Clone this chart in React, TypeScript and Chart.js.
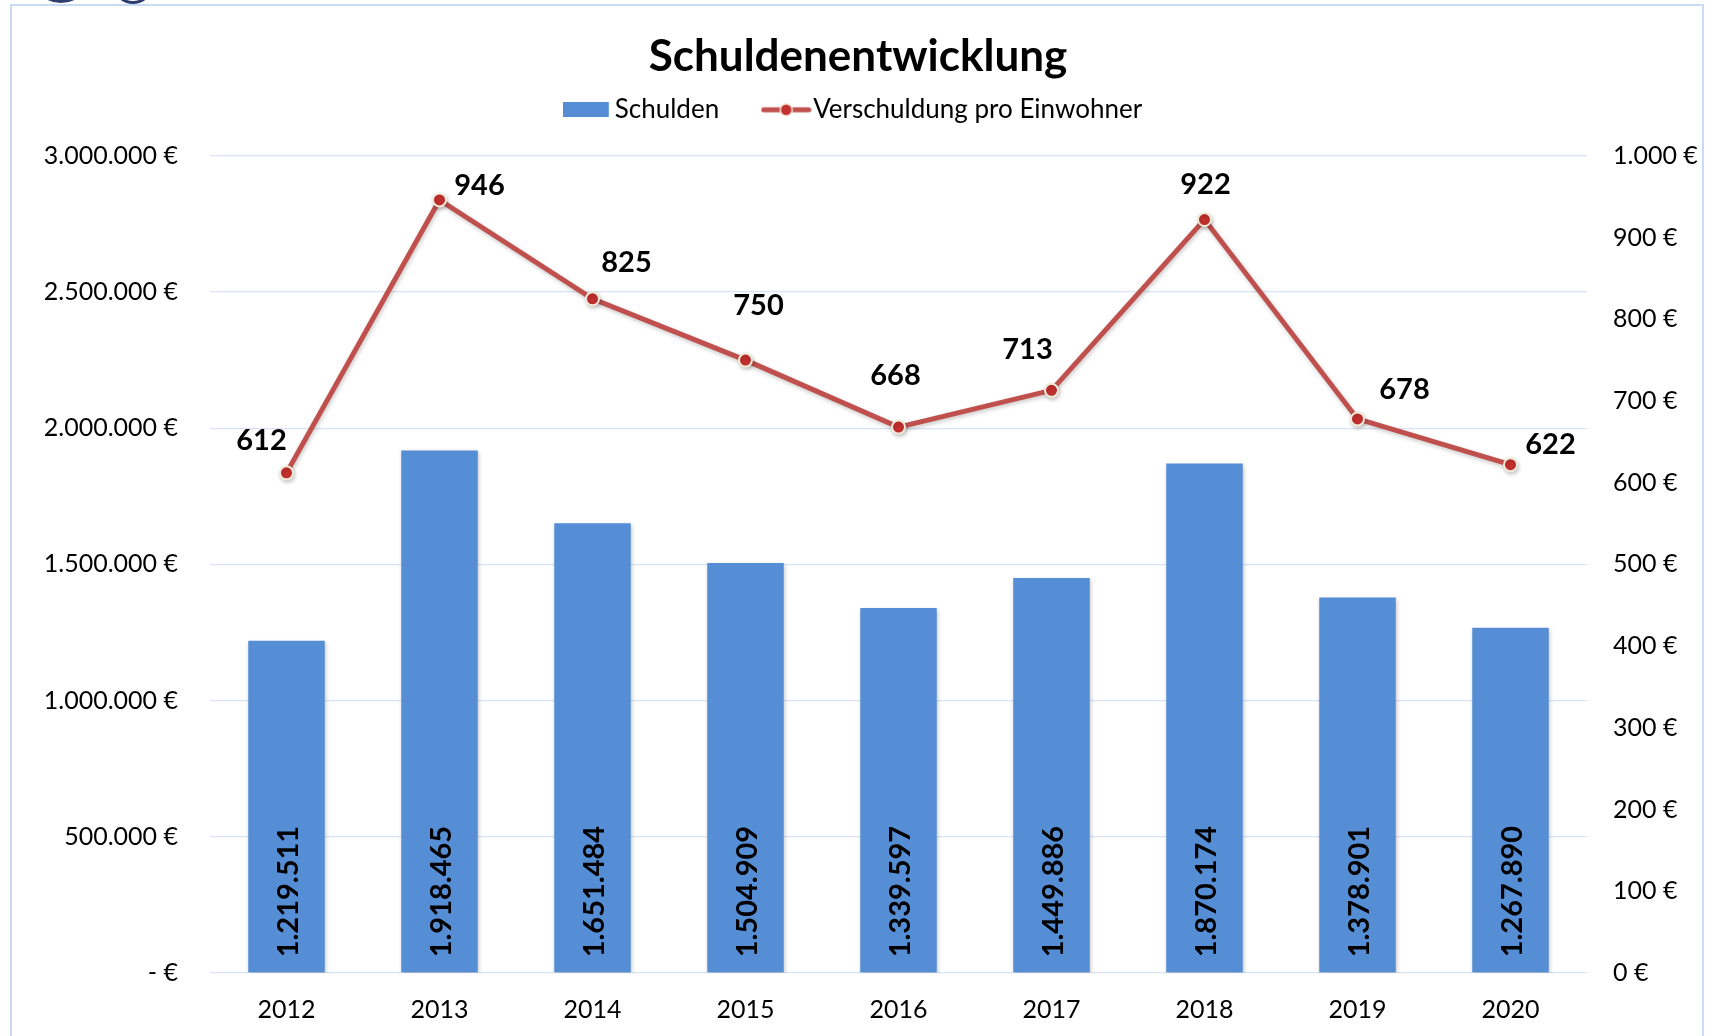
import React, { useEffect, useRef } from 'react';
import { Chart, registerables } from 'chart.js';

Chart.register(...registerables);

// ---- data ----
const years = ['2012', '2013', '2014', '2015', '2016', '2017', '2018', '2019', '2020'];
const schulden = [1219511, 1918465, 1651484, 1504909, 1339597, 1449886, 1870174, 1378901, 1267890];
const proEinwohner = [612, 946, 825, 750, 668, 713, 922, 678, 622];
const leftAxisMax = 3000000;
const leftAxisStep = 500000;
const rightAxisMax = 1000;
const rightAxisStep = 100;
// label offsets (style) for the line data labels, in px relative to the point
const lineLabelOffsets = [
  [-25, -32], [40, -14], [34, -36], [13, -54], [-3, -51], [-24, -41], [1, -35], [47, -29], [40, -20],
];

const FONT = 'Lato';
const BAR_COLOR = '#558ed5';
const LINE_COLOR = '#c0504d';
const POINT_FILL = '#c3302e';
const POINT_BORDER = '#f2e9d8';
const GRID_COLOR = '#d8e4f3';

function fmt(n: number): string {
  return String(Math.round(n)).replace(/\B(?=(\d{3})+(?!\d))/g, '.');
}

function makeBlueLegend(): HTMLCanvasElement {
  const c = document.createElement('canvas');
  c.width = 50;
  c.height = 15;
  const g = c.getContext('2d')!;
  g.fillStyle = BAR_COLOR;
  g.fillRect(0, 0, 46, 15);
  return c;
}

function makeRedLegend(): HTMLCanvasElement {
  const c = document.createElement('canvas');
  c.width = 51;
  c.height = 16;
  const g = c.getContext('2d')!;
  g.strokeStyle = LINE_COLOR;
  g.lineWidth = 5;
  g.lineCap = 'round';
  g.beginPath();
  g.moveTo(3, 8);
  g.lineTo(48, 8);
  g.stroke();
  g.beginPath();
  g.arc(25.5, 8, 6, 0, Math.PI * 2);
  g.fillStyle = POINT_FILL;
  g.fill();
  g.lineWidth = 1.5;
  g.strokeStyle = POINT_BORDER;
  g.stroke();
  return c;
}

const labelsPlugin = {
  id: 'customLabels',
  beforeDatasetsDraw(chart: any) {
    const ctx = chart.ctx;
    ctx.save();
    ctx.shadowColor = 'rgba(0,0,0,0.22)';
    ctx.shadowBlur = 4;
    ctx.shadowOffsetX = 1;
    ctx.shadowOffsetY = 2;
  },
  afterDatasetsDraw(chart: any) {
    const ctx = chart.ctx;
    ctx.restore();
    // bar labels (rotated, at base)
    const barMeta = chart.getDatasetMeta(0);
    ctx.save();
    ctx.fillStyle = '#000';
    ctx.font = `bold 29px ${FONT}`;
    barMeta.data.forEach((el: any, i: number) => {
      const v = chart.data.datasets[0].data[i];
      ctx.save();
      ctx.translate(el.x + 2, el.base - 15);
      ctx.rotate(-Math.PI / 2);
      ctx.textAlign = 'left';
      ctx.textBaseline = 'middle';
      ctx.fillText(fmt(v), 0, 0);
      ctx.restore();
    });
    // line labels
    const lineMeta = chart.getDatasetMeta(1);
    ctx.textAlign = 'center';
    ctx.textBaseline = 'middle';
    lineMeta.data.forEach((el: any, i: number) => {
      const v = chart.data.datasets[1].data[i];
      const off = lineLabelOffsets[i] || [0, -30];
      ctx.fillText(String(v), el.x + off[0], el.y + off[1]);
    });
    ctx.restore();
  },
};

export default function App() {
  const ref = useRef<HTMLCanvasElement | null>(null);

  useEffect(() => {
    if (!ref.current) return;
    const blue = makeBlueLegend();
    const red = makeRedLegend();
    Chart.defaults.font.family = FONT;
    const chart = new Chart(ref.current, {
      type: 'bar',
      data: {
        labels: years,
        datasets: [
          {
            type: 'bar',
            label: 'Schulden',
            data: schulden,
            backgroundColor: BAR_COLOR,
            yAxisID: 'y',
            barPercentage: 0.5,
            categoryPercentage: 1,
            order: 2,
          },
          {
            type: 'line',
            label: 'Verschuldung pro Einwohner',
            data: proEinwohner,
            borderColor: LINE_COLOR,
            borderWidth: 5,
            pointRadius: 6.5,
            pointBackgroundColor: POINT_FILL,
            pointBorderColor: POINT_BORDER,
            pointBorderWidth: 2,
            tension: 0,
            yAxisID: 'y1',
            order: 1,
          },
        ],
      } as any,
      options: {
        responsive: false,
        animation: false,
        devicePixelRatio: 1,
        layout: { padding: 0 },
        plugins: {
          tooltip: { enabled: false },
          title: {
            display: true,
            text: 'Schuldenentwicklung',
            color: '#000',
            font: { family: FONT, size: 44, weight: 'bold', lineHeight: 1.2 },
            padding: { top: 30, bottom: -39 },
          },
          legend: {
            display: true,
            position: 'top',
            labels: {
              color: '#000',
              font: { family: FONT, size: 26 },
              usePointStyle: true,
              pointStyleWidth: 28,
              padding: 53,
              sort: (a: any, b: any) => a.datasetIndex - b.datasetIndex,
              generateLabels: (c: any) => {
                const items = (Chart.defaults.plugins.legend.labels as any).generateLabels(c);
                return items.map((it: any) => ({
                  ...it,
                  pointStyle: it.datasetIndex === 0 ? blue : red,
                  lineWidth: 0,
                }));
              },
            },
          },
        },
        scales: {
          x: {
            grid: { display: false, drawTicks: false },
            border: { display: false },
            ticks: { color: '#000', font: { family: FONT, size: 25 }, padding: 22 },
            afterFit: (s: any) => { s.height = 63; },
          },
          y: {
            position: 'left',
            min: 0,
            max: leftAxisMax,
            grid: { color: GRID_COLOR, lineWidth: 1.3, drawTicks: false },
            border: { display: false },
            ticks: {
              stepSize: leftAxisStep,
              color: '#000',
              font: { family: FONT, size: 25 },
              padding: 32,
              callback: (v: any) => (Number(v) === 0 ? '- €' : fmt(Number(v)) + ' €'),
            },
            afterFit: (s: any) => { s.width = 210; },
          },
          y1: {
            position: 'right',
            min: 0,
            max: rightAxisMax,
            grid: { display: false, drawTicks: false, drawOnChartArea: false },
            border: { display: false },
            ticks: {
              stepSize: rightAxisStep,
              color: '#000',
              font: { family: FONT, size: 25 },
              padding: 26,
              callback: (v: any) => fmt(Number(v)) + ' €',
            },
            afterFit: (s: any) => { s.width = 129; },
          },
          gap: {
            type: 'linear',
            position: 'top',
            display: true,
            grid: { display: false, drawTicks: false },
            border: { display: false },
            ticks: { display: false },
            afterFit: (s: any) => { s.height = 23; },
          },
        },
      } as any,
      plugins: [labelsPlugin],
    });
    return () => chart.destroy();
  }, []);

  return (
    <div style={{ position: 'fixed', left: 0, top: 0, width: 1716, height: 1036, overflow: 'hidden', background: '#fff' }}>
      <div style={{ position: 'absolute', left: 30, top: -59, width: 56, height: 56, borderRadius: '50%', background: '#6aa7dd', border: '3px solid #2f3d6e' }} />
      <div style={{ position: 'absolute', left: 112, top: -38, width: 36, height: 36, borderRadius: '50%', border: '3px solid #2f3d6e' }} />
      <div style={{ position: 'absolute', left: 10, top: 4, width: 1694, height: 1200, border: '2px solid #c9dbf2', boxSizing: 'border-box', background: '#fff' }} />
      <canvas ref={ref} width={1716} height={1036} style={{ position: 'absolute', left: 0, top: 0, width: 1716, height: 1036 }} />
    </div>
  );
}
